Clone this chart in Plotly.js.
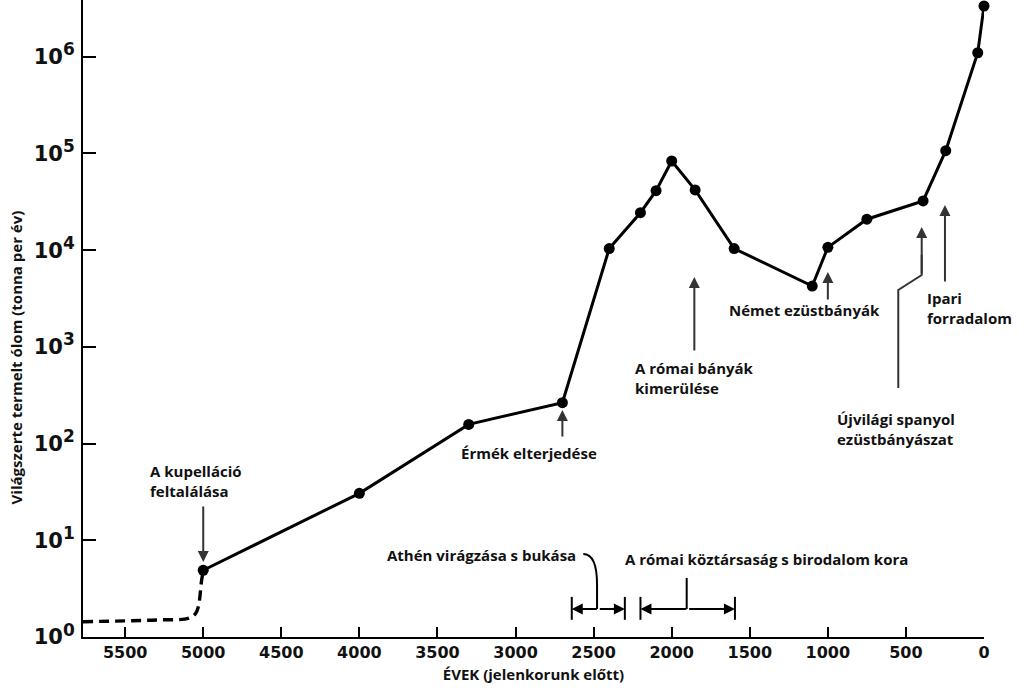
<!DOCTYPE html>
<html>
<head>
<meta charset="utf-8">
<script src="https://cdn.plot.ly/plotly-3.0.1.min.js"></script>
<style>html,body{margin:0;padding:0;background:#fff;}#chart{width:1024px;height:700px;}</style>
</head>
<body>
<div id="chart"></div>
<script>
// Years before present and world lead production (tonnes per year)
const years = [5000, 4000, 3300, 2700, 2400, 2200, 2100, 2000, 1850, 1600, 1100, 1000, 750, 390, 245, 40, 0];
const lead  = [4.9, 30.6, 158, 265, 10400, 24400, 41200, 83600, 42000, 10400, 4260, 10700, 20900, 32300, 107000, 1100000, 3350000];
// Prehistoric (uncertain) part, dashed
const preYears = [5770, 5300, 5085, 5042, 5010, 5000];
const preLead  = [1.44, 1.5, 1.58, 1.83, 3.9, 4.9];
// Axis ticks
const xTicks = [5500, 5000, 4500, 4000, 3500, 3000, 2500, 2000, 1500, 1000, 500, 0];
const yTicks = [1, 10, 100, 1000, 10000, 100000, 1000000];
const yExp = ['0', '1', '2', '3', '4', '5', '6'];
// Historical periods (years before present)
const athensPeriod = [2640, 2300];
const romePeriod = [2200, 1595];

const TXT = {family: 'Open Sans', size: 15, color: '#111', weight: 700};
const ARW = {showarrow: true, arrowhead: 2, arrowsize: 1.1, arrowwidth: 2, arrowcolor: '#333', text: '', ax: 0, standoff: 0};

const traces = [
  {x: preYears, y: preLead, mode: 'lines', line: {color: '#000', width: 3.4, dash: '10px,6px', shape: 'spline'}, cliponaxis: false, hoverinfo: 'skip'},
  {x: years, y: lead, mode: 'lines+markers', line: {color: '#000', width: 3}, marker: {color: '#000', size: 11}, cliponaxis: false}
];

function mid(a){ return (a[0] + a[1]) / 2; }

const annotations = [
  {x: 5354, y: 1.613, xref:'x', yref:'y', text: 'A kupelláció<br>feltalálása', showarrow:false, xanchor:'left', yanchor:'middle', align:'left', font: TXT},
  {x: 2914, y: 1.903, xref:'x', yref:'y', text: 'Érmék elterjedése', showarrow:false, xanchor:'center', yanchor:'middle', font: TXT},
  {x: 2248, y: 2.678, xref:'x', yref:'y', text: 'A római bányák<br>kimerülése', showarrow:false, xanchor:'left', yanchor:'middle', align:'left', font: TXT},
  {x: 1646, y: 3.382, xref:'x', yref:'y', text: 'Német ezüstbányák', showarrow:false, xanchor:'left', yanchor:'middle', font: TXT},
  {x: 378, y: 3.397, xref:'x', yref:'y', text: 'Ipari<br>forradalom', showarrow:false, xanchor:'left', yanchor:'middle', align:'left', font: TXT},
  {x: 954, y: 2.156, xref:'x', yref:'y', text: 'Újvilági spanyol<br>ezüstbányászat', showarrow:false, xanchor:'left', yanchor:'middle', align:'left', font: TXT},
  {x: 2600, y: 0.848, xref:'x', yref:'y', text: 'Athén virágzása s bukása', showarrow:false, xanchor:'right', yanchor:'middle', font: TXT},
  {x: 2312, y: 0.807, xref:'x', yref:'y', text: 'A római köztársaság s birodalom kora', showarrow:false, xanchor:'left', yanchor:'middle', font: TXT},
  // y title
  {x: -0.0733, y: 0.4388, xref:'paper', yref:'paper', text: 'Világszerte termelt ólom (tonna per év)', textangle: -90, showarrow:false, xanchor:'center', yanchor:'middle', font: {family:'Open Sans', size:15, color:'#111', weight:700}},
  // arrows
  Object.assign({}, ARW, {x: 5000, y: 0.776, xref:'x', yref:'y', ay: -57}),
  Object.assign({}, ARW, {x: 2700, y: 2.347, xref:'x', yref:'y', ay: 28}),
  Object.assign({}, ARW, {x: 1855, y: 3.723, xref:'x', yref:'y', ay: 75}),
  Object.assign({}, ARW, {x: 1000, y: 3.775, xref:'x', yref:'y', ay: 29}),
  Object.assign({}, ARW, {x: 250, y: 4.467, xref:'x', yref:'y', ay: 78}),
  Object.assign({}, ARW, {x: 399, y: 4.24, xref:'x', yref:'y', ay: 48}),
  // period range arrows
  Object.assign({}, ARW, {x: athensPeriod[0], y: 0.044, xref:'x', yref:'paper', ax: mid(athensPeriod), axref:'x', ay: 0, arrowcolor:'#000'}),
  Object.assign({}, ARW, {x: athensPeriod[1], y: 0.044, xref:'x', yref:'paper', ax: mid(athensPeriod), axref:'x', ay: 0, arrowcolor:'#000'}),
  Object.assign({}, ARW, {x: romePeriod[0], y: 0.044, xref:'x', yref:'paper', ax: mid(romePeriod), axref:'x', ay: 0, arrowcolor:'#000'}),
  Object.assign({}, ARW, {x: romePeriod[1], y: 0.044, xref:'x', yref:'paper', ax: mid(romePeriod), axref:'x', ay: 0, arrowcolor:'#000'})
];

const shapes = [];
[athensPeriod, romePeriod].forEach(function(p){
  p.forEach(function(v){
    shapes.push({type:'line', xref:'x', yref:'paper', x0: v, x1: v, y0: 0.027, y1: 0.063, line:{color:'#000', width:2}});
  });
});
// stems
shapes.push({type:'path', xref:'x', yref:'paper', path: 'M 2566,0.1303 Q 2478,0.1303 2478,0.0816 L 2478,0.044', line:{color:'#000', width:2}});
shapes.push({type:'line', xref:'x', yref:'paper', x0: 1904, x1: 1904, y0: 0.0926, y1: 0.044, line:{color:'#000', width:2}});
// bent connector for New World silver
shapes.push({type:'path', xref:'x', yref:'paper', path: 'M 549,0.391 L 549,0.5447 L 399,0.5683 L 399,0.60', line:{color:'#333', width:2}});

const layout = {
  width: 1024, height: 700,
  margin: {l: 83, r: 40, t: 0, b: 63, pad: 0},
  paper_bgcolor: '#fff', plot_bgcolor: '#fff',
  showlegend: false,
  xaxis: {
    range: [5770, 0], tickvals: xTicks, ticktext: xTicks.map(String),
    ticks: 'inside', ticklen: 10, tickwidth: 2, tickcolor: '#000',
    showline: true, linewidth: 2, linecolor: '#000', showgrid: false, zeroline: false,
    tickfont: {family: 'DejaVu Sans', size: 16, color: '#111', weight: 700},
    title: {text: 'ÉVEK (jelenkorunk előtt)', font: {family: 'Open Sans', size: 15, color: '#111', weight: 700}, standoff: 8}
  },
  yaxis: {
    type: 'log', range: [0, 6.587], tickvals: yTicks,
    ticktext: yExp.map(function(e){ return '10<sup><span style="font-size:17px">' + e + '</span></sup>'; }),
    ticks: 'inside', ticklen: 13, tickwidth: 2, tickcolor: '#000',
    showline: true, linewidth: 2, linecolor: '#000', showgrid: false, zeroline: false,
    tickfont: {family: 'DejaVu Sans', size: 21, color: '#111', weight: 700},
    ticklabelstandoff: 2
  },
  annotations: annotations,
  shapes: shapes
};

Plotly.newPlot('chart', traces, layout, {displayModeBar: false, staticPlot: true});
</script>
</body>
</html>
